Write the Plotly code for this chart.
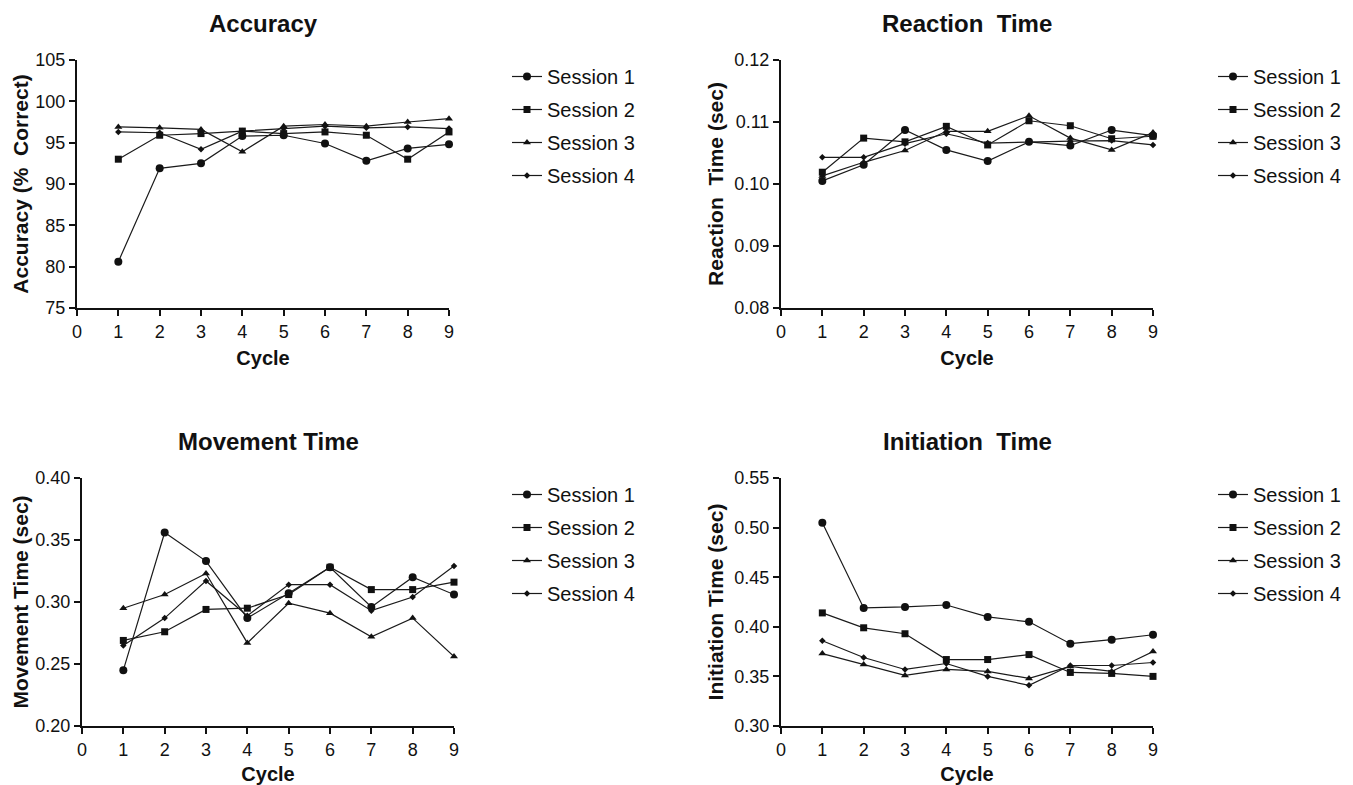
import plotly.graph_objects as go

# The page body adds an 8px margin; positions below are page pixels, shifted by OFF.
OFF = 8
W, H = 1353 - OFF, 785 - OFF

cycles = [1, 2, 3, 4, 5, 6, 7, 8, 9]
sessions = ["Session 1", "Session 2", "Session 3", "Session 4"]

acc_s1 = [80.6, 91.9, 92.5, 95.8, 95.9, 94.9, 92.8, 94.3, 94.8]
acc_s2 = [93.0, 95.9, 96.1, 96.4, 96.1, 96.3, 95.9, 93.0, 96.3]
acc_s3 = [96.9, 96.8, 96.6, 93.9, 97.0, 97.2, 97.0, 97.5, 97.9]
acc_s4 = [96.3, 96.2, 94.2, 96.4, 96.7, 97.0, 96.8, 96.9, 96.7]

rt_s1 = [0.1005, 0.1031, 0.1087, 0.1055, 0.1037, 0.1068, 0.1062, 0.1087, 0.1078]
rt_s2 = [0.1019, 0.1074, 0.1068, 0.1093, 0.1063, 0.1102, 0.1094, 0.1073, 0.1077]
rt_s3 = [0.1013, 0.1035, 0.1054, 0.1085, 0.1085, 0.1110, 0.1074, 0.1055, 0.1083]
rt_s4 = [0.1043, 0.1043, 0.1065, 0.1081, 0.1066, 0.1068, 0.1069, 0.1070, 0.1063]

mt_s1 = [0.245, 0.356, 0.333, 0.287, 0.307, 0.328, 0.296, 0.320, 0.306]
mt_s2 = [0.269, 0.276, 0.294, 0.295, 0.306, 0.328, 0.310, 0.310, 0.316]
mt_s3 = [0.295, 0.306, 0.323, 0.267, 0.299, 0.291, 0.272, 0.287, 0.256]
mt_s4 = [0.265, 0.287, 0.317, 0.289, 0.314, 0.314, 0.293, 0.304, 0.329]

it_s1 = [0.505, 0.419, 0.420, 0.422, 0.410, 0.405, 0.383, 0.387, 0.392]
it_s2 = [0.414, 0.399, 0.393, 0.367, 0.367, 0.372, 0.354, 0.353, 0.350]
it_s3 = [0.373, 0.362, 0.351, 0.357, 0.355, 0.348, 0.360, 0.355, 0.375]
it_s4 = [0.386, 0.369, 0.357, 0.363, 0.350, 0.341, 0.361, 0.361, 0.364]

panel_titles = ["Accuracy", "Reaction\u00a0\u00a0Time", "Movement Time", "Initiation\u00a0\u00a0Time"]
y_titles = ["Accuracy (%\u00a0\u00a0Correct)", "Reaction\u00a0\u00a0Time (sec)",
            "Movement Time (sec)", "Initiation Time (sec)"]
y_ranges = [[75, 105], [0.08, 0.12], [0.20, 0.40], [0.30, 0.55]]
y_dticks = [5, 0.01, 0.05, 0.05]
y_formats = ["d", ".2f", ".2f", ".2f"]
panel_data = [
    [acc_s1, acc_s2, acc_s3, acc_s4],
    [rt_s1, rt_s2, rt_s3, rt_s4],
    [mt_s1, mt_s2, mt_s3, mt_s4],
    [it_s1, it_s2, it_s3, it_s4],
]

symbols = ["circle", "square", "triangle-up", "diamond"]
sizes = [8, 7, 7, 5]

# plot areas in page pixels: (left, right, top, bottom)
boxes = [(77, 449, 60, 308), (781, 1153, 60, 308), (82, 454, 478, 726), (781, 1153, 478, 726)]
legend_pos = [(507, 57), (1213, 57), (507, 475), (1213, 475)]
title_pos = [(263, 24), (967, 24), (268, 441), (967, 441)]
y_standoff = [1, 5, 1, 5]

FONT = "Liberation Sans, Arial, Helvetica, sans-serif"
INK = "#111111"


def px_x(v):
    return (v - OFF) / W


def px_y(v):
    return 1 - (v - OFF) / H


fig = go.Figure()
layout = dict(
    width=W, height=H, margin=dict(l=0, r=0, t=0, b=0, autoexpand=False),
    paper_bgcolor="white", plot_bgcolor="white",
    font=dict(family=FONT, color=INK, size=18),
    annotations=[],
)

for p in range(4):
    sfx = "" if p == 0 else str(p + 1)
    xa, ya = "x" + sfx, "y" + sfx
    leg = "legend" + sfx
    for s in range(4):
        fig.add_trace(go.Scatter(
            x=cycles, y=panel_data[p][s], name=sessions[s],
            mode="lines+markers", xaxis=xa, yaxis=ya, legend=leg,
            legendgroup=f"p{p}s{s}", cliponaxis=False,
            line=dict(color="#1a1a1a", width=1.2),
            marker=dict(symbol=symbols[s], size=sizes[s], color=INK,
                        line=dict(width=0)),
        ))
    l, r, t, b = boxes[p]
    axis_common = dict(showline=True, linecolor=INK, linewidth=2, ticks="outside",
                       ticklen=6, tickwidth=1.6, tickcolor=INK, showgrid=False,
                       zeroline=False, automargin=False,
                       tickfont=dict(size=18, family=FONT, color=INK))
    layout["xaxis" + sfx] = dict(
        domain=[px_x(l), px_x(r)], anchor=ya, range=[0, 9], dtick=1, tick0=0,
        title=dict(text="<b>Cycle</b>", font=dict(size=20, family=FONT, color=INK), standoff=10),
        **axis_common)
    layout["yaxis" + sfx] = dict(
        domain=[px_y(b), px_y(t)], anchor=xa, range=y_ranges[p],
        dtick=y_dticks[p], tick0=y_ranges[p][0], tickformat=y_formats[p],
        title=dict(text="<b>" + y_titles[p] + "</b>", font=dict(size=21, family=FONT, color=INK),
                   standoff=y_standoff[p]),
        **axis_common)
    lx, ly = legend_pos[p]
    layout[leg] = dict(x=px_x(lx), y=px_y(ly), xanchor="left", yanchor="top",
                       font=dict(size=20, family=FONT, color=INK),
                       bgcolor="rgba(0,0,0,0)", tracegroupgap=4, itemwidth=30)
    tx, ty = title_pos[p]
    layout["annotations"].append(dict(
        text="<b>" + panel_titles[p] + "</b>", x=px_x(tx), y=px_y(ty),
        xref="paper", yref="paper", xanchor="center", yanchor="middle",
        showarrow=False, font=dict(size=24, family=FONT, color=INK)))

fig.update_layout(**layout)
fig.write_html("out.html")
